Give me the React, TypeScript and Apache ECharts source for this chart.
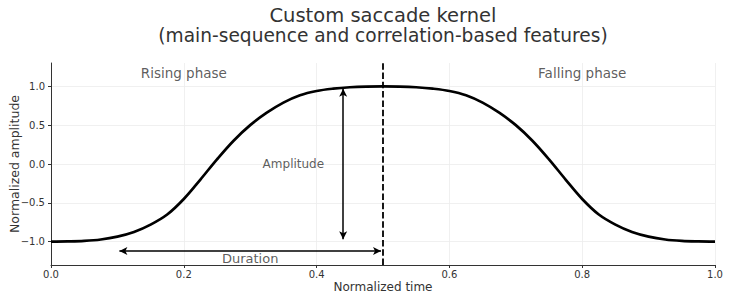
import { useEffect, useRef } from "react";
import * as echarts from "echarts";

// ---- data ----
const timeValues = [
  0, 0.025, 0.05, 0.075, 0.1, 0.125, 0.15, 0.175, 0.2, 0.225, 0.25,
  0.275, 0.3, 0.325, 0.35, 0.375, 0.4, 0.425, 0.45, 0.475, 0.5,
  0.525, 0.55, 0.575, 0.6, 0.625, 0.65, 0.675, 0.7, 0.725, 0.75,
  0.775, 0.8, 0.825, 0.85, 0.875, 0.9, 0.925, 0.95, 0.975, 1.0,
];
const risingAmplitude = [
  -1.0, -0.997, -0.99, -0.972, -0.935, -0.875, -0.78, -0.65, -0.45, -0.2, 0.06,
  0.3, 0.5, 0.66, 0.79, 0.885, 0.94, 0.97, 0.988, 0.997, 1.0,
];
const fallingAmplitude = [
  0.997, 0.988, 0.97, 0.94, 0.885, 0.79, 0.66, 0.5, 0.3, 0.06,
  -0.2, -0.45, -0.65, -0.78, -0.875, -0.935, -0.972, -0.99, -0.997, -1.0,
];
const amplitudeValues = [...risingAmplitude, ...fallingAmplitude];

const xTicks = [0, 0.2, 0.4, 0.6, 0.8, 1.0];
const yTicks = [-1.0, -0.5, 0.0, 0.5, 1.0];
const titleText = "Custom saccade kernel";
const subtitleText = "(main-sequence and correlation-based features)";
const xAxisName = "Normalized time";
const yAxisName = "Normalized amplitude";

const annotationTexts = ["Rising phase", "Falling phase", "Amplitude", "Duration"];
const annotationX = [0.2, 0.8, 0.365, 0.3];
const annotationY = [1.17, 1.17, 0.0, -1.22];
const annotationSizes = [13.5, 13.5, 12, 13];

const peakTime = 0.5;
const amplitudeArrowX = 0.44;
const amplitudeArrowY = [-0.97, 0.97];
const durationArrowY = -1.12;
const durationArrowX = [0.103, 0.497];

const FONT = "DejaVu Sans";
const TEXT = "#333333";

const fmt = (v: number) => {
  const s = Math.abs(v).toFixed(1);
  return v < -1e-9 ? "\u2212" + s : s;
};

export default function App() {
  const ref = useRef<HTMLDivElement>(null);

  useEffect(() => {
    if (!ref.current) return;
    const chart = echarts.init(ref.current, undefined, { renderer: "svg" });

    const curve = timeValues.map((t, i) => [t, amplitudeValues[i]]);
    const labels = annotationTexts.map((txt, i) => ({
      value: [annotationX[i], annotationY[i]],
      label: {
        show: true,
        formatter: txt,
        position: "inside",
        fontFamily: FONT,
        fontSize: annotationSizes[i],
        color: TEXT,
      },
    }));

    const option: any = {
      animation: false,
      title: {
        text: titleText,
        subtext: subtitleText,
        left: 383,
        top: 5,
        padding: 0,
        itemGap: 0,
        textAlign: "center",
        textStyle: {
          fontFamily: FONT,
          fontSize: 19.5,
          fontWeight: "normal",
          color: TEXT,
          lineHeight: 20,
        },
        subtextStyle: {
          fontFamily: FONT,
          fontSize: 18.6,
          fontWeight: "normal",
          color: TEXT,
          lineHeight: 20,
        },
      },
      grid: {
        left: 51,
        right: 15,
        top: 63,
        bottom: 34,
        containLabel: false,
        outerBoundsMode: "none",
      },
      xAxis: {
        type: "value",
        min: 0,
        max: 1,
        interval: 0.2,
        name: xAxisName,
        nameLocation: "middle",
        nameGap: 16,
        nameMoveOverlap: false,
        nameTextStyle: { fontFamily: FONT, fontSize: 12, color: TEXT },
        axisLine: { show: true, onZero: false, lineStyle: { color: "#333333", width: 1 } },
        axisTick: { show: true, inside: false, length: 3, lineStyle: { color: "#333333" } },
        axisLabel: {
          formatter: (v: number) => fmt(v),
          fontFamily: FONT,
          fontSize: 10,
          color: TEXT,
          margin: 4,
          showMinLabel: true,
          showMaxLabel: true,
        },
        splitLine: { show: true, lineStyle: { color: "#ececec", width: 0.8 } },
      },
      yAxis: {
        type: "value",
        min: -1.3,
        max: 1.3,
        name: yAxisName,
        nameLocation: "middle",
        nameGap: 30,
        nameMoveOverlap: false,
        nameTextStyle: { fontFamily: FONT, fontSize: 12.5, color: TEXT },
        axisLine: { show: true, onZero: false, lineStyle: { color: "#333333", width: 1 } },
        axisTick: { show: true, inside: false, length: 3, customValues: yTicks, lineStyle: { color: "#333333" } },
        axisLabel: {
          customValues: yTicks,
          formatter: (v: number) => fmt(v),
          fontFamily: FONT,
          fontSize: 10,
          color: TEXT,
          margin: 6,
        },
        splitLine: { show: false },
      },
      series: [
        {
          type: "line",
          name: "grid",
          data: [],
          z: 0,
          silent: true,
          markLine: {
            z: 0,
            silent: true,
            symbol: ["none", "none"],
            label: { show: false },
            lineStyle: { color: "#ececec", width: 0.8, type: "solid" },
            emphasis: { disabled: true },
            data: yTicks.map((v) => ({ yAxis: v })),
          },
        },
        {
          type: "line",
          name: "kernel",
          data: curve,
          smooth: 0.35,
          showSymbol: false,
          symbol: "none",
          z: 6,
          lineStyle: { color: "#000000", width: 2.7 },
          silent: true,
        },
        {
          type: "line",
          name: "annot",
          data: [],
          z: 7,
          silent: true,
          markLine: {
            z: 7,
            silent: true,
            label: { show: false },
            emphasis: { disabled: true },
            data: [
              [
                { coord: [peakTime, -1.3], symbol: "none" },
                { coord: [peakTime, 1.3], symbol: "none" },
              ],
              [
                { coord: [amplitudeArrowX, amplitudeArrowY[0]], symbol: "arrow", symbolSize: [6, 8] },
                { coord: [amplitudeArrowX, amplitudeArrowY[1]], symbol: "arrow", symbolSize: [6, 8] },
              ],
              [
                { coord: [durationArrowX[0], durationArrowY], symbol: "arrow", symbolSize: [6, 8] },
                { coord: [durationArrowX[1], durationArrowY], symbol: "arrow", symbolSize: [6, 8] },
              ],
            ].map((pair, i) =>
              i === 0
                ? pair.map((p: any) => ({ ...p, lineStyle: { color: "#000", width: 1.8, type: [6.5, 2.8] } }))
                : pair.map((p: any) => ({ ...p, lineStyle: { color: "#000", width: 1.5, type: "solid" } }))
            ),
          },
        },
        {
          type: "scatter",
          name: "labels",
          symbolSize: 0,
          z: 8,
          silent: true,
          data: labels,
        },
      ],
    };

    chart.setOption(option);
    return () => chart.dispose();
  }, []);

  return (
    <div
      ref={ref}
      style={{ position: "fixed", left: 0, top: 0, width: 730, height: 299, background: "#ffffff" }}
    />
  );
}
